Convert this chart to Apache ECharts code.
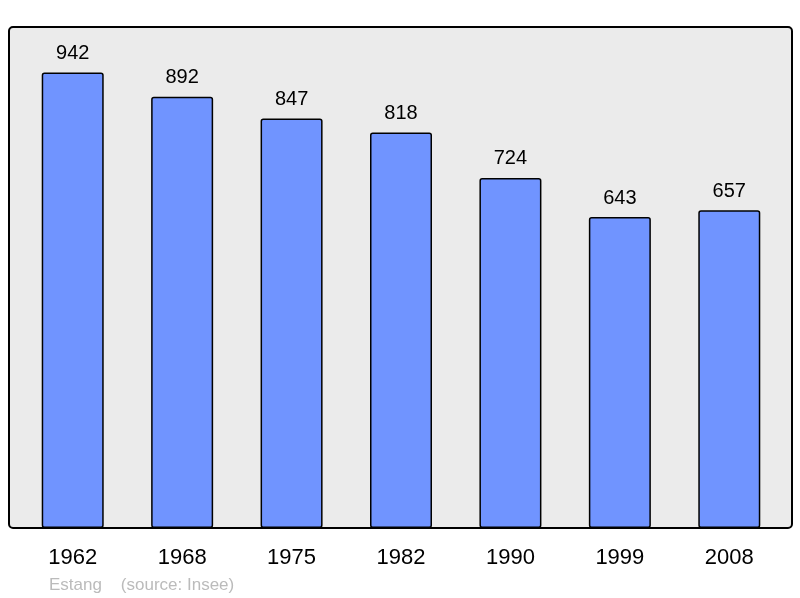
<!DOCTYPE html>
<html>
<head>
<meta charset="utf-8">
<script src="https://cdn.jsdelivr.net/npm/echarts@6/dist/echarts.min.js"></script>
<style>
  html, body { margin: 0; padding: 0; background: #fff; }
  #chart { width: 800px; height: 598px; }
</style>
</head>
<body>
<div id="chart"></div>
<script>
  const years = ['1962', '1968', '1975', '1982', '1990', '1999', '2008']
  const population = [942, 892, 847, 818, 724, 643, 657]

  let chart = echarts.init(document.getElementById('chart'))
  chart.setOption({
    animation: false,
    textStyle: { fontFamily: 'Liberation Sans, Arial, sans-serif' },
    graphic: [
      {
        type: 'rect',
        z: -10,
        shape: { x: 9, y: 27, width: 783, height: 501, r: 4 },
        style: { fill: '#ebebeb', stroke: '#000', lineWidth: 2 },
      },
      {
        type: 'text',
        left: 49,
        top: 577,
        style: {
          text: 'Estang    (source: Insee)',
          fill: '#bbbbbb',
          font: '17px Liberation Sans, Arial, sans-serif',
        },
      },
    ],
    grid: { left: 18, top: 27, width: 766, height: 501 },
    xAxis: {
      type: 'category',
      data: years,
      axisLine: { show: false },
      axisTick: { show: false },
      axisLabel: { color: '#000', fontSize: 22, margin: 19 },
    },
    yAxis: {
      type: 'value',
      min: 0,
      max: 1036,
      show: false,
    },
    series: [
      {
        type: 'bar',
        data: population,
        barWidth: 62,
        itemStyle: {
          color: '#7094ff',
          borderColor: '#000',
          borderWidth: 1.5,
          borderRadius: 2,
        },
        label: {
          show: true,
          position: 'top',
          distance: 9,
          color: '#000',
          fontSize: 20,
        },
      },
    ],
  })
</script>
</body>
</html>
